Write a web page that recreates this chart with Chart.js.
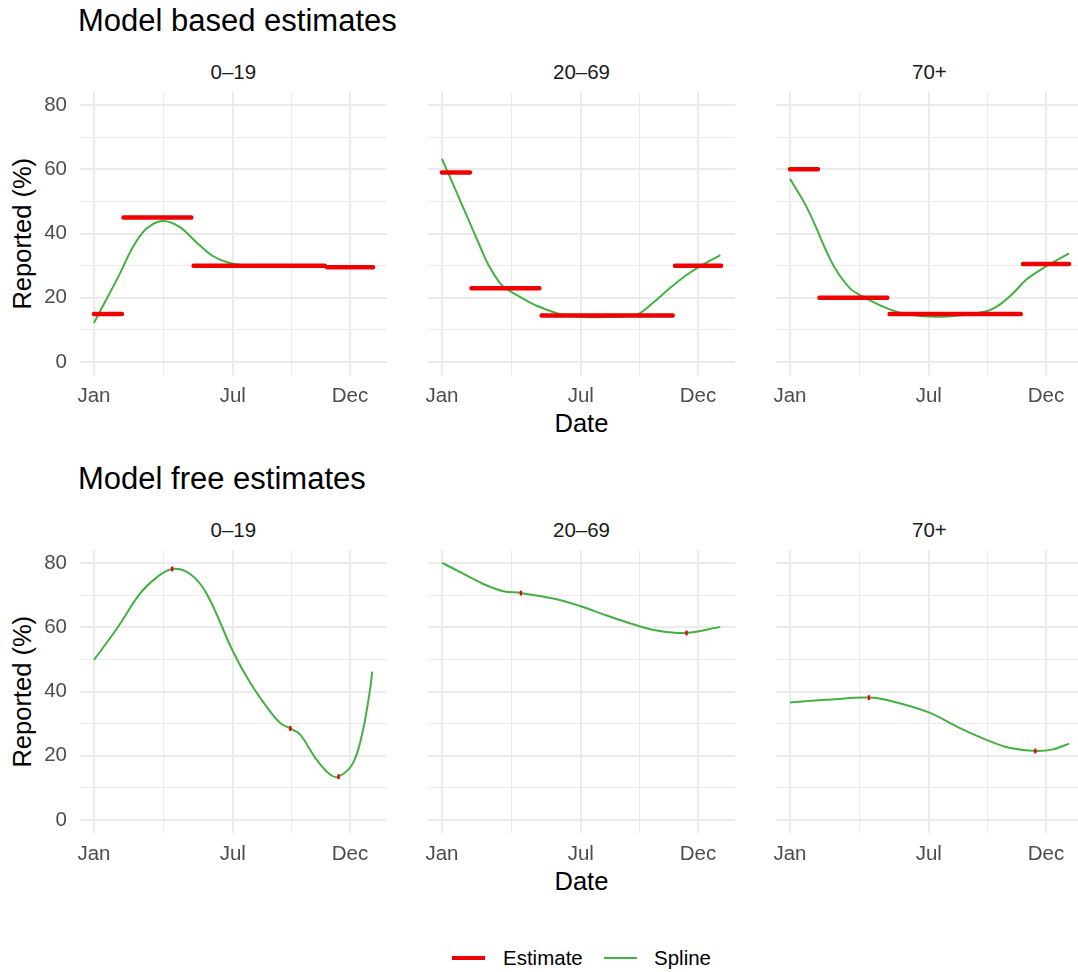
<!DOCTYPE html>
<html>
<head>
<meta charset="utf-8">
<script src="https://cdn.jsdelivr.net/npm/chart.js@4.4.1/dist/chart.umd.min.js"></script>
<style>
  html, body { margin: 0; padding: 0; background: #ffffff; }
  body { width: 1078px; height: 972px; overflow: hidden; position: relative;
         font-family: "Liberation Sans", Arial, Helvetica, sans-serif; }
  .t { position: absolute; white-space: nowrap; line-height: 1; }
  canvas { position: absolute; }
</style>
</head>
<body>

<div class="t" style="left:78px; top:5px; font-size:31px; color:#000;">Model based estimates</div>
<div class="t" style="left:78px; top:463px; font-size:31px; color:#000;">Model free estimates</div>

<div id="labels"></div>

<canvas id="c00" width="387" height="323" style="left:0px; top:92px;"></canvas>
<canvas id="c01" width="327" height="323" style="left:408px; top:92px;"></canvas>
<canvas id="c02" width="327" height="323" style="left:756px; top:92px;"></canvas>
<canvas id="c10" width="387" height="323" style="left:0px; top:550px;"></canvas>
<canvas id="c11" width="327" height="323" style="left:408px; top:550px;"></canvas>
<canvas id="c12" width="327" height="323" style="left:756px; top:550px;"></canvas>

<div style="position:absolute; left:452px; top:956px; width:33px; height:4px; background:#EE0000;"></div>
<div class="t" style="left:503px; top:948px; font-size:20.5px; color:#000;">Estimate</div>
<div style="position:absolute; left:604px; top:957px; width:33px; height:2px; background:#44B044;"></div>
<div class="t" style="left:654px; top:948px; font-size:20.5px; color:#000;">Spline</div>

<script>
// ---------- categories / ticks ----------
const groups = ['0–19', '20–69', '70+'];
const rowTitles = ['Model based estimates', 'Model free estimates'];
const monthTicks = [0, 181, 334];          // day of year: Jan 1, Jul 1, Dec 1
const monthLabels = ['Jan', 'Jul', 'Dec'];
const minorDayTicks = [90.5, 257.5];
const yMajor = [0, 20, 40, 60, 80];
const yMinor = [10, 30, 50, 70];

// ---------- Model based estimates (top row) ----------
const segStart = [0, 38.5, 130, 304];
const segEnd   = [36.5, 127, 301, 364];
const estTop_0_19  = [15, 45, 30, 29.5];
const estTop_20_69 = [59, 23, 14.5, 30];
const estTop_70    = [60, 20, 15, 30.5];

const splTopDays_0_19 = [0, 16, 34, 51, 69, 90, 112, 134, 155, 177, 200, 250, 300, 364];
const splTopVals_0_19 = [12.2, 19.4, 27.6, 35.9, 41.6, 43.9, 42, 37.2, 33, 30.8, 30.1, 30, 29.9, 29.8];

const splTopDays_20_69 = [0, 10, 20, 30, 40, 50, 60, 70, 80, 101, 126, 158, 188, 214, 253, 275, 297, 319, 336, 363];
const splTopVals_20_69 = [63.2, 57.8, 52.3, 46.8, 41.3, 35.8, 30.5, 26.5, 23.5, 20.4, 17.3, 14.7, 14.0, 14.0, 14.7, 18.4, 23, 27.1, 29.7, 33.3];

const splTopDays_70 = [0, 17, 30, 47, 60, 78, 91, 126, 156, 204, 256, 273, 291, 308, 330, 364];
const splTopVals_70 = [57, 50.3, 44.1, 34.8, 28.7, 23, 20.9, 16.8, 14.7, 14.2, 15.8, 17.8, 21.4, 25.6, 29.2, 33.8];

// ---------- Model free estimates (bottom row) ----------
const splBotDays_0_19 = [0, 30, 60, 82, 102, 125, 147, 181, 203, 225, 243, 256, 269, 290, 308, 319, 338, 351, 360, 363];
const splBotVals_0_19 = [49.8, 59.6, 70.4, 75.5, 78.1, 76.6, 70.4, 52.6, 43, 35.3, 30.2, 28.5, 26.6, 18.9, 14.2, 13.5, 17.8, 28.1, 40.5, 46.2];
const estBotDays_0_19 = [102, 256, 319];
const estBotVals_0_19 = [78.1, 28.5, 13.5];

const splBotDays_20_69 = [0, 20, 40, 60, 80, 103, 145, 181, 214, 253.5, 284, 319, 363];
const splBotVals_20_69 = [80, 77.6, 75.1, 72.8, 71.2, 70.6, 68.9, 66.5, 63.7, 60.6, 58.8, 58.2, 60.1];
const estBotDays_20_69 = [103, 319];
const estBotVals_20_69 = [70.6, 58.2];

const splBotDays_70 = [0, 47, 103, 134, 181, 221, 257, 286, 320, 343, 364];
const splBotVals_70 = [36.6, 37.4, 38.1, 36.9, 33.5, 28.7, 24.9, 22.5, 21.5, 22, 23.8];
const estBotDays_70 = [103, 320];
const estBotVals_70 = [38.1, 21.5];

// ---------- styling ----------
const RED = '#EE0000';
const GREEN = '#44B044';
const GRID = '#EBEBEB';
const FONT = '"Liberation Sans", Arial, Helvetica, sans-serif';

const xTickVals = [...monthTicks, ...minorDayTicks].sort((a, b) => a - b);
const yTickVals = [...yMajor, ...yMinor].sort((a, b) => a - b);

function pts(xs, ys) { return xs.map((x, i) => ({ x: x, y: ys[i] })); }
function segPts(starts, ends, vals) {
  const out = [];
  vals.forEach((v, i) => {
    if (i > 0) out.push({ x: (ends[i - 1] + starts[i]) / 2, y: null });
    out.push({ x: starts[i], y: v });
    out.push({ x: ends[i], y: v });
  });
  return out;
}

function makePanel(id, showY, splineData, estDataset) {
  const yW = showY ? 80 : 20;
  new Chart(document.getElementById(id), {
    type: 'line',
    data: {
      datasets: [
        estDataset,
        {
          label: 'Spline',
          data: splineData,
          borderColor: GREEN,
          borderWidth: 2,
          pointRadius: 0,
          pointHoverRadius: 0,
          tension: 0.35,
          fill: false,
          order: 2
        }
      ]
    },
    options: {
      responsive: false,
      animation: false,
      devicePixelRatio: 1,
      events: [],
      layout: { padding: 0, autoPadding: false },
      plugins: { legend: { display: false }, title: { display: false }, tooltip: { enabled: false } },
      scales: {
        x: {
          type: 'linear',
          min: -18.2, max: 382.2,
          border: { display: false },
          grid: {
            color: GRID, drawTicks: false,
            lineWidth: c => (c.tick && monthTicks.includes(c.tick.value)) ? 2 : 1
          },
          afterBuildTicks: s => { s.ticks = xTickVals.map(v => ({ value: v })); },
          afterFit: s => { s.height = 40; s.paddingLeft = 0; s.paddingRight = 0; },
          ticks: {
            autoSkip: false, maxRotation: 0, minRotation: 0, padding: 9,
            color: '#4D4D4D', font: { family: FONT, size: 20.5 },
            callback: v => { const i = monthTicks.indexOf(v); return i >= 0 ? monthLabels[i] : ''; }
          }
        },
        y: {
          type: 'linear',
          min: -4, max: 84,
          border: { display: false },
          grid: {
            color: GRID, drawTicks: false,
            lineWidth: c => (c.tick && yMajor.includes(c.tick.value)) ? 2 : 1
          },
          afterBuildTicks: s => { s.ticks = yTickVals.map(v => ({ value: v })); },
          afterFit: s => { s.width = yW; s.paddingTop = 0; s.paddingBottom = 0; },
          ticks: {
            display: showY, autoSkip: false, padding: 13,
            color: '#4D4D4D', font: { family: FONT, size: 20.5 },
            callback: v => yMajor.includes(v) ? String(v) : ''
          }
        }
      }
    }
  });
}

function segDataset(vals) {
  return {
    label: 'Estimate',
    data: segPts(segStart, segEnd, vals),
    borderColor: RED,
    borderWidth: 4.5,
    borderCapStyle: 'round',
    pointRadius: 0,
    pointHoverRadius: 0,
    spanGaps: false,
    tension: 0,
    fill: false,
    order: 1
  };
}
function tickDataset(days, vals) {
  return {
    label: 'Estimate',
    data: pts(days, vals),
    showLine: false,
    pointStyle: 'line',
    rotation: 90,
    pointRadius: 2.4,
    pointHoverRadius: 2.4,
    pointBorderWidth: 2.4,
    borderColor: RED,
    pointBorderColor: RED,
    backgroundColor: RED,
    order: 1
  };
}

makePanel('c00', true,  pts(splTopDays_0_19, splTopVals_0_19),  segDataset(estTop_0_19));
makePanel('c01', false, pts(splTopDays_20_69, splTopVals_20_69), segDataset(estTop_20_69));
makePanel('c02', false, pts(splTopDays_70, splTopVals_70),       segDataset(estTop_70));
makePanel('c10', true,  pts(splBotDays_0_19, splBotVals_0_19),  tickDataset(estBotDays_0_19, estBotVals_0_19));
makePanel('c11', false, pts(splBotDays_20_69, splBotVals_20_69), tickDataset(estBotDays_20_69, estBotVals_20_69));
makePanel('c12', false, pts(splBotDays_70, splBotVals_70),       tickDataset(estBotDays_70, estBotVals_70));

// ---------- facet labels & axis titles (HTML text) ----------
const labels = document.getElementById('labels');
const panelCenters = [233.5, 581.5, 929.5];
const rowOffsets = [0, 458];
function addText(txt, css) {
  const d = document.createElement('div');
  d.className = 't';
  d.textContent = txt;
  d.style.cssText = css;
  labels.appendChild(d);
  return d;
}
rowOffsets.forEach(off => {
  groups.forEach((g, i) => {
    const d = addText(g, `top:${62 + off}px; font-size:20.5px; color:#1A1A1A;`);
    d.style.left = (panelCenters[i] - d.offsetWidth / 2) + 'px';
  });
  const dt = addText('Date', `top:${411 + off}px; font-size:25.5px; color:#000;`);
  dt.style.left = (581.5 - dt.offsetWidth / 2) + 'px';
  const yt = addText('Reported (%)', `font-size:25.5px; color:#000;`);
  const w = yt.offsetWidth, h = yt.offsetHeight;
  yt.style.left = (22.8 - w / 2) + 'px';
  yt.style.top = (233.5 + off - h / 2) + 'px';
  yt.style.transform = 'rotate(-90deg)';
});
</script>
</body>
</html>
